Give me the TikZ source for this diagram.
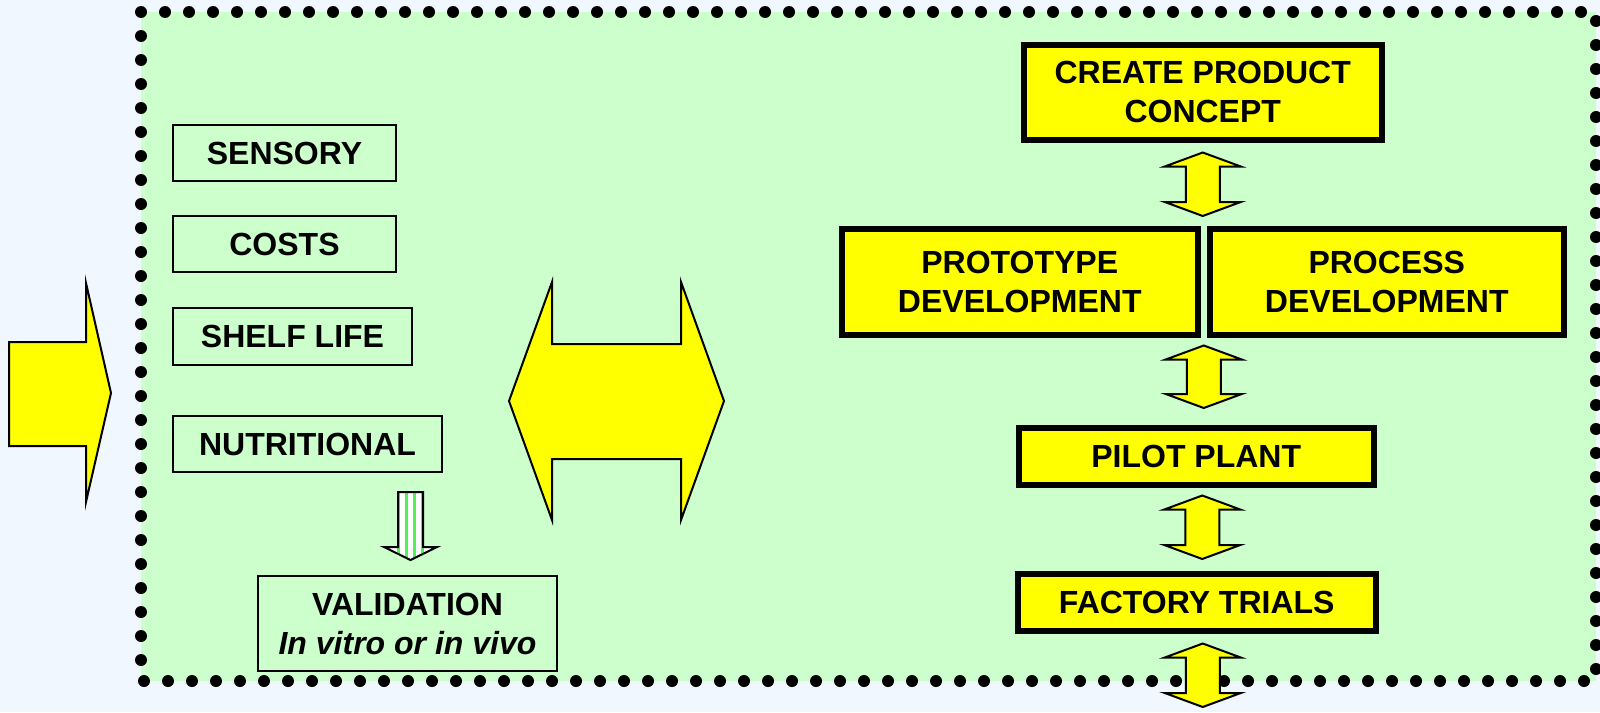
\documentclass[tikz,border=0pt]{standalone}
\usepackage{fontspec}
\setmainfont{Liberation Sans}
\usetikzlibrary{positioning,calc}
\definecolor{bgc}{HTML}{F0F7FF}
\definecolor{pane}{HTML}{CCFFCC}
\definecolor{ylw}{HTML}{FFFF00}
\definecolor{strp}{HTML}{55F055}
\tikzset{
  lbox/.style={draw, line width=2pt, inner sep=0pt, align=center, anchor=north west},
  ybox/.style={draw, fill=ylw, line width=5.5pt, inner sep=0pt, align=center, anchor=north west},
  blk/.style={draw, fill=ylw, line width=2pt, line join=miter},
  dotframe/.style={draw, line width=12pt, line cap=round, dash pattern=on 0pt off 24pt},
  stripes/.style={draw, line width=2pt, fill=white, path picture={
      \foreach \k in {-12,-4,4,12}
        \draw[strp, line width=3.5pt] ($(path picture bounding box.center)+(\k,-60)$) -- ++(0,120);}}}
% up-down block arrow: top tip, bottom tip (x taken from the top tip)
\newcommand\updown[2]{%
  \draw[blk] let \p1=(#1), \p2=(#2) in
    (\x1,\y1) -- (\x1+38pt,\y1-14pt) -- (\x1+17pt,\y1-14pt) -- (\x1+17pt,\y2+14pt)
    -- (\x1+38pt,\y2+14pt) -- (\x1,\y2) -- (\x1-38pt,\y2+14pt) -- (\x1-17pt,\y2+14pt)
    -- (\x1-17pt,\y1-14pt) -- (\x1-38pt,\y1-14pt) -- cycle;}

\begin{document}
\begin{tikzpicture}[x=1pt, y=-1pt, font=\fontsize{32}{39}\selectfont\bfseries]
\useasboundingbox[fill=bgc] (0,0) rectangle (1600,712);
\fill[pane] (141,12) rectangle (1596,681);
\path[dotframe] (141,12) rectangle (1596,681);

% incoming arrow
\draw[blk] (9,342) -- (86,342) -- (86,283) -- (111,393) -- (86,502) -- (86,446) -- (9,446) -- cycle;

% left column
\node[lbox, minimum width=223pt, minimum height=56pt] (sens) at (172,124) {SENSORY};
\node[lbox, minimum width=223pt, minimum height=56pt] (cost) at (172,215) {COSTS};
\node[lbox, minimum width=239pt, minimum height=57pt] (shelf) at (172,307) {SHELF LIFE};
\node[lbox, minimum width=269pt, minimum height=56pt] (nutr) at (172,415) {NUTRITIONAL};
\node[lbox, minimum width=299pt, minimum height=95pt] (valid) at (257,575)
  {VALIDATION\\\textit{In vitro or in vivo}};
\path[stripes] let \p1=($(valid.north)+(3,-15)$), \p2=($(nutr.south)+(0,19)$) in
  (\x1-12.5pt,\y2) -- (\x1+12.5pt,\y2) -- (\x1+12.5pt,\y1+13pt) -- (\x1+26.5pt,\y1+13pt)
  -- (\x1,\y1) -- (\x1-26.5pt,\y1+13pt) -- (\x1-12.5pt,\y1+13pt) -- cycle;

% two-way arrow between the columns
\draw[blk] (509,401) -- (552,282) -- (552,344) -- (681,344) -- (681,282) -- (724,401)
  -- (681,520) -- (681,459) -- (552,459) -- (552,520) -- cycle;

% right column
\node[ybox, minimum width=358pt, minimum height=95pt] (cpc) at (1021,42) {CREATE PRODUCT\\CONCEPT};
\node[ybox, minimum width=356pt, minimum height=106pt] (proto) at (839,226) {PROTOTYPE\\DEVELOPMENT};
\node[ybox, minimum width=354pt, minimum height=106pt] (proc) at (1207,226) {PROCESS\\DEVELOPMENT};
\node[ybox, minimum width=355pt, minimum height=57pt] (pilot) at (1016,425) {PILOT PLANT};
\node[ybox, minimum width=358pt, minimum height=57pt] (fact) at (1015,571) {FACTORY TRIALS};
\coordinate (exit) at (1200,707);

\updown{$(cpc.south)+(0,10)$}{$($(proto.north east)!.5!(proc.north west)$)+(0,-10)$}
\updown{$($(proto.south east)!.5!(proc.south west)$)+(0,8)$}{$(pilot.north)+(6,-17)$}
\updown{$(pilot.south)+(6,8)$}{$(fact.north)+(6,-12)$}
\updown{$(fact.south)+(6,10)$}{exit}
\end{tikzpicture}
\end{document}
